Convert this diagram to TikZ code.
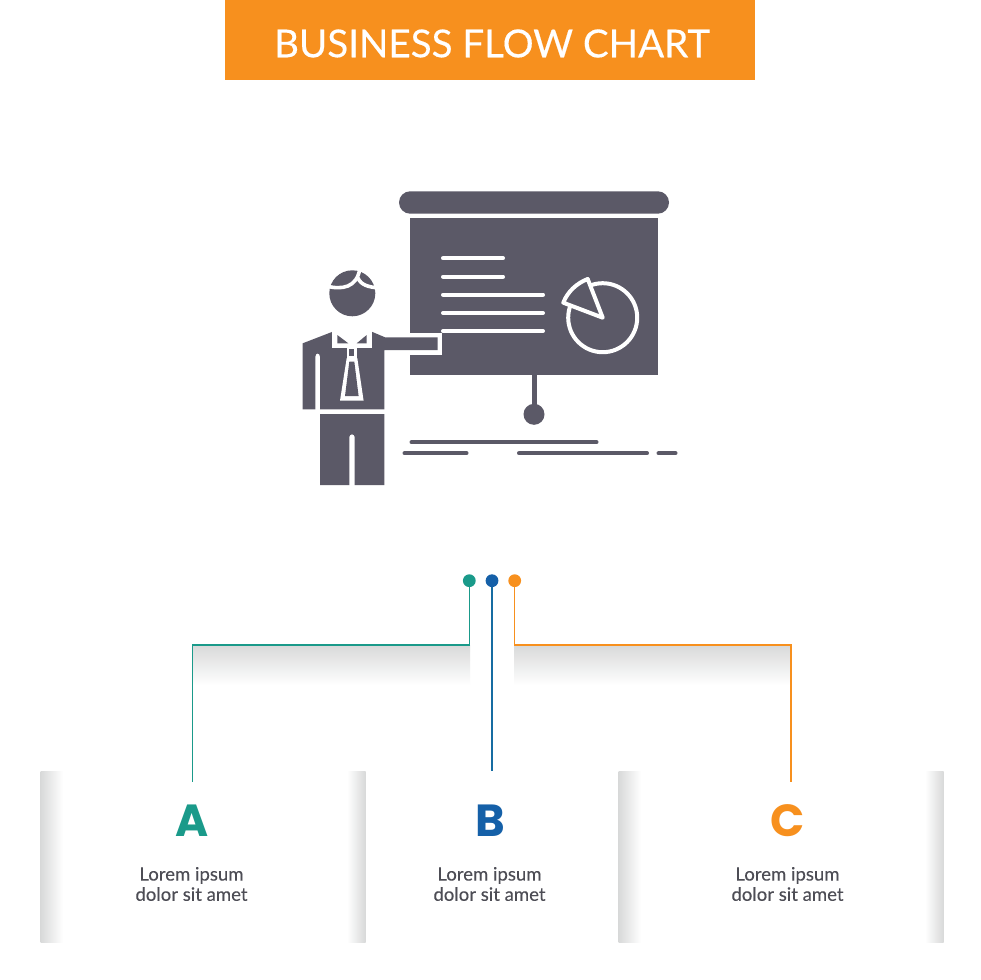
\documentclass[tikz,border=0pt]{standalone}
\usepackage{fontspec}
\setmainfont{Lato}
\newfontfamily\letterfont{Poppins}
\newfontfamily\titlefont[FakeBold=0.35]{Lato}
\newfontfamily\loremfont[FakeBold=0.15]{Lato}
\definecolor{headbar}{HTML}{F7901E}
\definecolor{icondark}{HTML}{5B5967}
\definecolor{tealA}{HTML}{1A9A8A}
\definecolor{blueB}{HTML}{1560A8}
\definecolor{orangeC}{HTML}{F7901E}
\definecolor{shadegray}{HTML}{D8D9D9}
\definecolor{loremgray}{HTML}{4D4D55}
\usetikzlibrary{calc}

\begin{document}
\begin{tikzpicture}[x=0.25mm,y=-0.25mm,
	icon/.style={fill=icondark,draw=none},
	whiteline/.style={draw=white,line width=1mm,line cap=round},
	darkline/.style={draw=icondark,line width=1mm,line cap=round},
	whiteback/.style={fill=white,draw=none},
	dot/.style={circle,inner sep=0pt,minimum size=3.2mm},
	wire/.style={line width=0.33mm},
	letter/.style={font=\letterfont\bfseries\fontsize{32}{32}\selectfont,inner sep=0pt},
	lorem/.style={font=\loremfont\fontsize{13.2}{14.4}\selectfont,text=loremgray,align=center,inner sep=0pt}]

	\useasboundingbox[fill=white] (0,0) rectangle (980,980);

	% header
	\fill[headbar] (225,0) rectangle (755,80);
	\node[text=white,inner sep=0pt,font=\titlefont\fontsize{27.4}{27.4}\selectfont] (title) at (492,43.5) {BUSINESS FLOW CHART};

	% board
	\fill[icon,rounded corners=2.8mm] (399,191.3) rectangle (669,213.7);
	\fill[icon] (410.3,218.3) rectangle (657.7,374.7);
	\draw[whiteline] (443,258.3) -- (503,258.3);
	\draw[whiteline] (443,276.7) -- (503,276.7);
	\draw[whiteline] (443,294.7) -- (543,294.7);
	\draw[whiteline] (443,313) -- (543,313);
	\draw[whiteline] (443,331) -- (543,331);

	% pie
	\draw[draw=white,line width=1mm] (602.7,317.7) circle[radius=34.5];
	\draw[draw=white,fill=icondark,line width=1mm,line join=round] (602.7,317.7) -- (587.7,279)
		.. controls (576.7,283.25) and (567.5,291.7) .. (563.3,302.7) -- cycle;

	% stand
	\fill[icon] (531.5,374) rectangle (536.5,410);
	\fill[icon] (534,414.3) circle[radius=10.5];

	% floor
	\draw[darkline] (411.5,442.3) -- (596.5,442.3);
	\draw[darkline] (404.5,453.3) -- (466.5,453.3);
	\draw[darkline] (519,453.3) -- (647,453.3);
	\draw[darkline] (658.5,453.3) -- (675.5,453.3);

	% man
	\fill[whiteback] (405,333.3) rectangle (442.3,354.7);
	\fill[icon] (352.3,293.3) circle[radius=23];
	\draw[draw=white,line width=0.9mm] (326,286) .. controls (342,290) and (357,288) .. (360,268);
	\draw[draw=white,line width=0.9mm] (358,278) .. controls (361,285) and (368,287) .. (379,288);
	\fill[icon] (302.7,343.3) -- (332.7,331.7) -- (371.7,331.7) -- (385,337.3) -- (437.7,337.3)
		-- (437.7,350) -- (384.3,350) -- (384.3,409.3) -- (320,409.3) -- (320,356.7)
		.. controls (320,352.5) and (315.3,352.5) .. (315.3,356.7)
		-- (315.3,409.3) -- (302.7,409.3) -- cycle;
	\fill[whiteback] (332.3,330) rectangle (372.3,348.3);
	\fill[icon] (337.3,335) -- (337.3,343.3) -- (348.3,343.3) -- cycle;
	\fill[icon] (366.7,335) -- (366.7,343.3) -- (356.7,343.3) -- cycle;
	\fill[whiteback] (346.5,348) rectangle (357.2,358);
	\fill[icon] (349.3,349) rectangle (354.3,355.7);
	\fill[whiteback] (346.7,358) -- (357.3,358) -- (363.6,400.7) -- (340,400.7) -- cycle;
	\fill[icon] (349.3,361.7) -- (354.3,361.7) -- (358.6,396) -- (345,396) -- cycle;
	\fill[icon] (320,414) -- (384.3,414) -- (384.3,485) -- (354.7,485) -- (354.7,437)
		.. controls (354.7,433.5) and (349.3,433.5) .. (349.3,437)
		-- (349.3,485) -- (320,485) -- cycle;

	% shadows under the wires
	\shade[top color=shadegray,bottom color=white] (193,645) rectangle (470,685);
	\shade[top color=shadegray,bottom color=white] (514,645) rectangle (791,685);

	% panels
	\shade[left color=shadegray,right color=white] (40.5,771.3) rectangle (63,942);
	\shade[left color=white,right color=shadegray] (347,771.3) rectangle (365.5,942);
	\shade[left color=shadegray,right color=white] (618.5,771.3) rectangle (641,942);
	\shade[left color=white,right color=shadegray] (925,771.3) rectangle (943.5,942);

	% dots and wires
	\node[dot,fill=tealA] (dotA) at (469.3,580.7) {};
	\node[dot,fill=blueB] (dotB) at (492,580.7) {};
	\node[dot,fill=orangeC] (dotC) at (514.7,580.7) {};
	\coordinate (cornerA) at (192.7,645);
	\coordinate (endA) at (192.7,781.7);
	\coordinate (endB) at (492,771.3);
	\coordinate (cornerC) at (791,645);
	\coordinate (endC) at (791,781.7);
	\draw[wire,tealA] (dotA) |- (cornerA) -- (endA);
	\draw[wire,blueB!80!tealA] (dotB) -- (endB);
	\draw[wire,orangeC] (dotC) |- (cornerC) -- (endC);

	% letters
	\node[letter,text=tealA] (letterA) at (192,820.5) {A};
	\node[letter,text=blueB] (letterB) at (490,820.5) {B};
	\node[letter,text=orangeC] (letterC) at (788,820.5) {C};

	\node[lorem] (textA) at (191.5,884) {Lorem ipsum\\dolor sit amet};
	\node[lorem] (textB) at (489.5,884) {Lorem ipsum\\dolor sit amet};
	\node[lorem] (textC) at (787.5,884) {Lorem ipsum\\dolor sit amet};
\end{tikzpicture}
\end{document}
